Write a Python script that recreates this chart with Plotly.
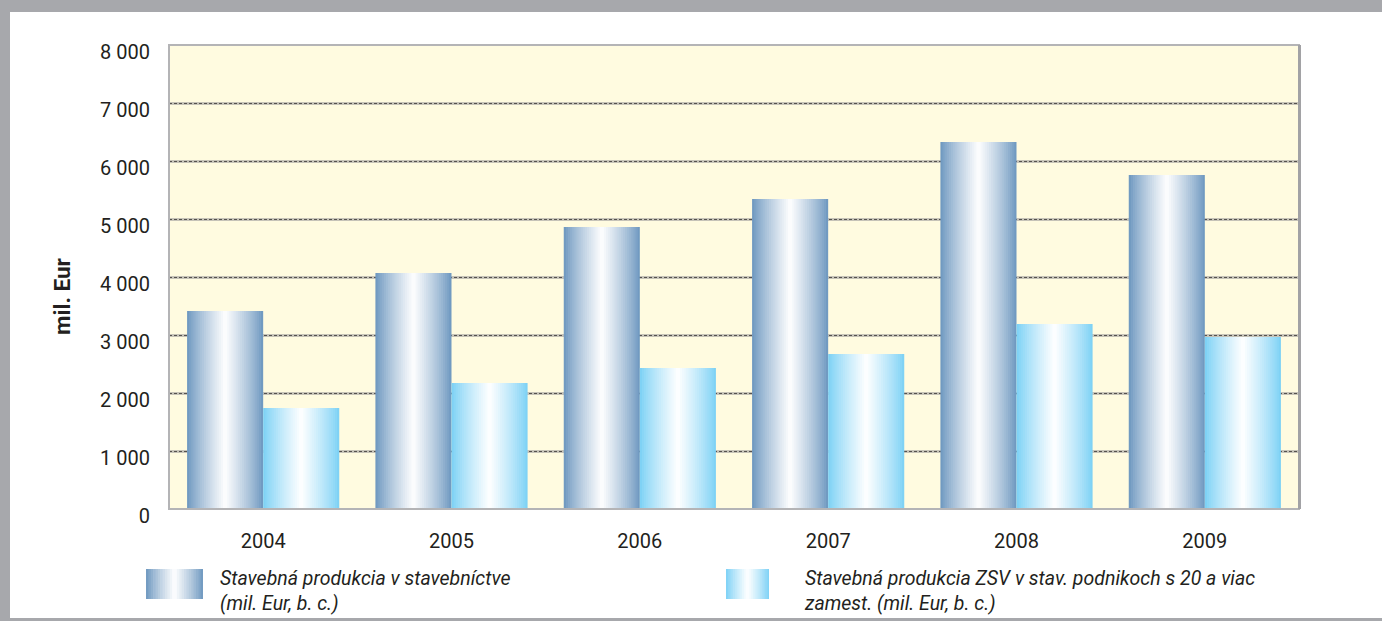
import plotly.graph_objects as go

# ---- data ----
years = ["2004", "2005", "2006", "2007", "2008", "2009"]
produkcia = [3414, 4069, 4862, 5345, 6328, 5759]
produkcia_zsv = [1741, 2172, 2431, 2672, 3190, 2966]
series_names = ["Stavebná produkcia v stavebníctve<br>(mil. Eur, b. c.)",
                "Stavebná produkcia ZSV v stav. podnikoch s 20 a viac<br>zamest. (mil. Eur, b. c.)"]
y_tickvals = [0, 1000, 2000, 3000, 4000, 5000, 6000, 7000, 8000]
y_ticktext = ["0", "1 000", "2 000", "3 000", "4 000", "5 000", "6 000", "7 000", "8 000"]
y_title = "mil. Eur"

# ---- style ----
W, H = 1382, 621
L, R, T, B = 169, 1299, 45, 509
FONT = "Roboto, Liberation Sans Narrow, sans-serif"
edge1 = (106, 149, 190)
edge2 = (121, 208, 245)
N = 36
BW = 0.404


def grad(edge, u):
    t = 1 - abs(2 * u - 1)
    t = t ** 0.85
    c = [round(e + (255 - e) * t) for e in edge]
    return "rgb(%d,%d,%d)" % tuple(c)


fig = go.Figure()
# invisible trace to activate the second (grid) y-axis
fig.add_trace(go.Scatter(x=[years[0]], y=[None], yaxis="y2", showlegend=False,
                         hoverinfo="skip", mode="markers"))
for vals, edge, base in [(produkcia, edge1, -BW), (produkcia_zsv, edge2, 0.0)]:
    step = BW / N
    for i in range(N):
        u = (i + 0.5) / N
        wdt = step * 1.6 if i < N - 1 else step
        fig.add_trace(go.Bar(
            x=years, y=vals, width=wdt, offset=base + i * step,
            marker=dict(color=grad(edge, u), line=dict(width=0)),
            showlegend=False, hoverinfo="skip"))


def px(x):
    return (x - L) / (R - L)


def py(y):
    return (B - y) / (B - T)


shapes = []
# gray frame strips
shapes.append(dict(type="rect", xref="paper", yref="paper", x0=px(0), x1=px(W), y0=py(12), y1=py(0),
                   fillcolor="#a7a8ac", line=dict(width=0), layer="above"))
shapes.append(dict(type="rect", xref="paper", yref="paper", x0=px(0), x1=px(10), y0=py(W), y1=py(0),
                   fillcolor="#a7a8ac", line=dict(width=0), layer="above"))
shapes.append(dict(type="rect", xref="paper", yref="paper", x0=px(0), x1=px(W), y0=py(H), y1=py(618),
                   fillcolor="#a7a8ac", line=dict(width=0), layer="above"))
# plot frame
shapes.append(dict(type="rect", xref="paper", yref="paper", x0=0, x1=1, y0=0, y1=1,
                   line=dict(color="#b4b4b6", width=2), layer="above"))
shapes.append(dict(type="line", xref="paper", yref="paper", x0=px(1299.5), x1=px(1299.5), y0=0, y1=1,
                   line=dict(color="#a2a2a5", width=3), layer="above"))

# legend swatches (gradient)
for (x0, x1, edge) in [(146, 203, edge1), (726, 769, edge2)]:
    n = 24
    sw = (x1 - x0) / n
    for i in range(n):
        u = (i + 0.5) / n
        shapes.append(dict(type="rect", xref="paper", yref="paper",
                           x0=px(x0 + i * sw), x1=px(x0 + (i + 1) * sw + (0.6 if i < n - 1 else 0)),
                           y0=py(599), y1=py(569),
                           fillcolor=grad(edge, u), line=dict(width=0)))

annotations = [
    dict(text=series_names[0], xref="paper", yref="paper", x=px(218), y=py(565),
         xanchor="left", yanchor="top", align="left", showarrow=False,
         font=dict(family=FONT, size=19.5, color="#231f20", style="italic")),
    dict(text=series_names[1], xref="paper", yref="paper", x=px(802), y=py(565),
         xanchor="left", yanchor="top", align="left", showarrow=False,
         font=dict(family=FONT, size=19.5, color="#231f20", style="italic")),
    dict(text="<b>" + y_title + "</b>", xref="paper", yref="paper", x=px(62), y=py(297),
         xanchor="center", yanchor="middle", textangle=-90, showarrow=False,
         font=dict(family=FONT, size=22.5, color="#231f20")),
]

fig.update_layout(
    width=W, height=H,
    margin=dict(l=L, r=W - R, t=T, b=H - B),
    paper_bgcolor="white", plot_bgcolor="#fffbe0",
    barmode="overlay", showlegend=False,
    shapes=shapes, annotations=annotations,
    font=dict(family=FONT, size=19, color="#231f20"),
    xaxis=dict(type="category", range=[-0.5, 5.5], showgrid=False, showline=False,
               ticks="", ticklabelstandoff=18, tickfont=dict(size=20)),
    yaxis=dict(range=[0, 8000], tickvals=y_tickvals, ticktext=y_ticktext,
               showgrid=True, gridcolor="#c6c3b8", gridwidth=2.5,
               zeroline=False, showline=False, ticks="", ticklabelstandoff=18,
               ticklabelshift=7,
               tickfont=dict(size=20)),
    yaxis2=dict(range=[0, 8000], tickvals=y_tickvals[1:-1], overlaying="y", side="left",
                showgrid=True, gridcolor="#55524e", griddash="3px,2px", gridwidth=1.2,
                showticklabels=False, zeroline=False, showline=False, ticks=""),
)
fig.write_html("out.html", config={"displayModeBar": False},
               post_script="document.body.style.margin='0';document.body.style.overflow='hidden';")
